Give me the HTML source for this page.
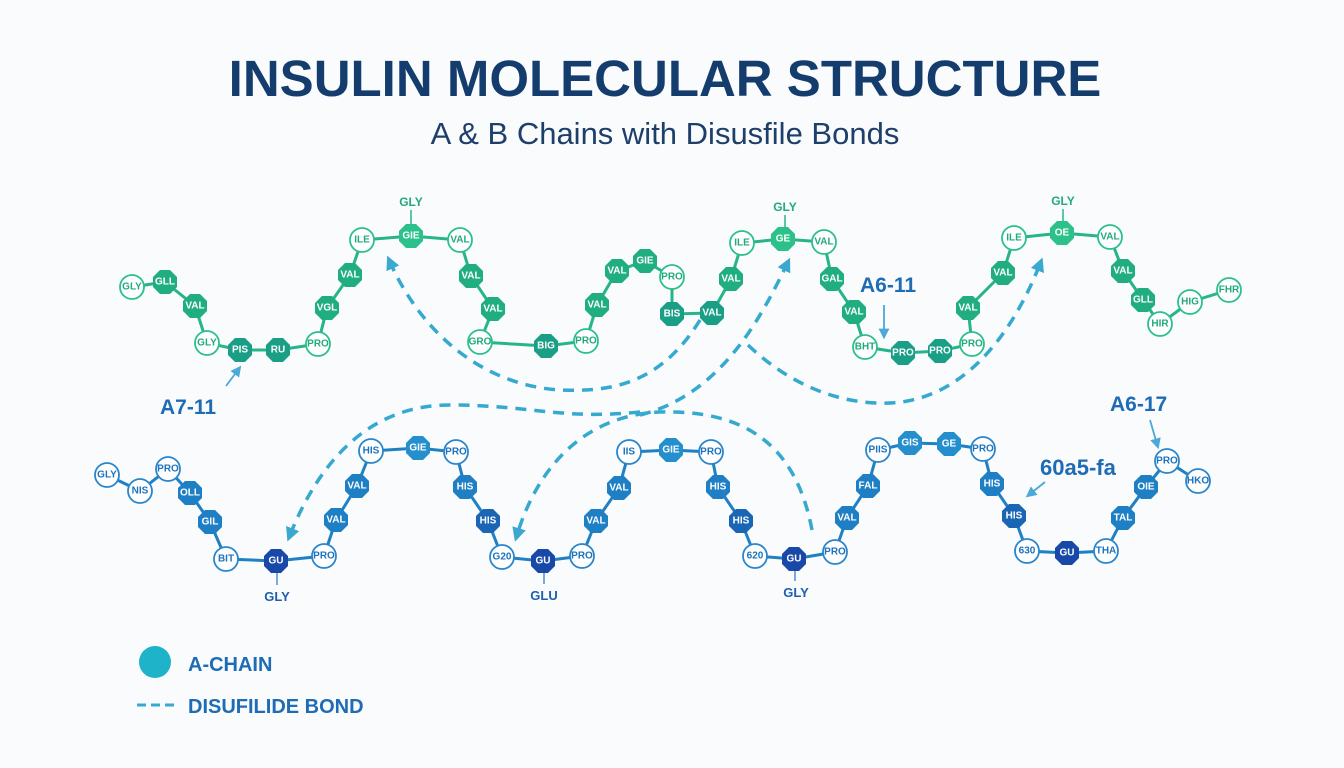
<!DOCTYPE html>
<html><head><meta charset="utf-8"><style>
html,body{margin:0;padding:0;background:#f9fbfc;}
svg{display:block;font-family:"Liberation Sans",sans-serif;}
.g text{font-size:10px;font-weight:bold;text-anchor:middle;dominant-baseline:central;}
.tf{fill:#fff}
.tg{fill:#22a97c}
.tb{fill:#1d72bd}
</style></head><body>
<svg width="1344" height="768" viewBox="0 0 1344 768">
<defs>
<polygon id="oct" points="12,5 5,12 -5,12 -12,5 -12,-5 -5,-12 5,-12 12,-5"/>
<marker id="ah" viewBox="0 0 10 10" refX="5" refY="5" markerWidth="4" markerHeight="4" orient="auto"><path d="M0,0 L10,5 L0,10 z" fill="#3aa8cf"/></marker>
<marker id="ah2" viewBox="0 0 10 10" refX="5" refY="5" markerWidth="6" markerHeight="6" orient="auto"><path d="M0,0 L10,5 L0,10 z" fill="#4aa9d6"/></marker>
</defs>
<rect width="1344" height="768" fill="#f9fbfc"/>
<text x="665" y="96" text-anchor="middle" font-size="51" font-weight="bold" fill="#143d6e">INSULIN MOLECULAR STRUCTURE</text>
<text x="665" y="144" text-anchor="middle" font-size="31" fill="#1d3f6a">A &amp; B Chains with Disusfile Bonds</text>

<!-- dashed bonds -->
<g fill="none" stroke="#35a9cf" stroke-width="3.5" stroke-dasharray="11,8">
<path d="M700,320 C660,385 610,392 560,390 C480,385 420,330 390,262" marker-end="url(#ah)"/>
<path d="M640,412 C560,420 530,405 450,405 C370,405 320,460 290,535" marker-end="url(#ah)"/>
<path d="M640,415 C720,395 760,320 787,264" marker-end="url(#ah)"/>
<path d="M812,530 C795,440 740,410 660,412 C590,415 540,460 517,535" marker-end="url(#ah)"/>
<path d="M748,345 C790,385 840,405 890,403 C960,400 1010,340 1040,264" marker-end="url(#ah)"/>
</g>

<!-- top chain -->
<polyline fill="none" stroke="#27b489" stroke-width="3" points="132,287 165,282 195,306 207,343 240,350 278,350 318,344 327,308 350,275 362,240 411,236 460,240 471,276 493,309 480,342 546,346 586,341 597,305 617,271 645,261 672,277 672,314 712,313 731,279 742,243 783,239 824,242 832,279 854,312 865,347 903,353 940,351 972,344 968,308 1003,273 1014,238 1062,233 1110,237 1123,271 1143,300 1160,324 1190,302 1229,290"/>
<g stroke="#27b489" stroke-width="1.5"><line x1="411" y1="210" x2="411" y2="226"/><line x1="785" y1="215" x2="785" y2="229"/><line x1="1063" y1="209" x2="1063" y2="223"/></g>
<g class="g">
<g fill="#fff" stroke="#2cbf8e" stroke-width="1.8">
<circle cx="132" cy="287" r="12"/><circle cx="207" cy="343" r="12"/><circle cx="318" cy="344" r="12"/><circle cx="362" cy="240" r="12"/><circle cx="460" cy="240" r="12"/><circle cx="480" cy="342" r="12"/><circle cx="586" cy="341" r="12"/><circle cx="672" cy="277" r="12"/><circle cx="742" cy="243" r="12"/><circle cx="824" cy="242" r="12"/><circle cx="865" cy="347" r="12"/><circle cx="972" cy="344" r="12"/><circle cx="1014" cy="238" r="12"/><circle cx="1110" cy="237" r="12"/><circle cx="1160" cy="324" r="12"/><circle cx="1190" cy="302" r="12"/><circle cx="1229" cy="290" r="12"/>
</g>
<g fill="#20ad80">
<use href="#oct" x="165" y="282"/><use href="#oct" x="195" y="306"/><use href="#oct" x="240" y="350" fill="#1a9f86"/><use href="#oct" x="278" y="350" fill="#1a9f86"/><use href="#oct" x="327" y="308"/><use href="#oct" x="350" y="275"/><use href="#oct" x="411" y="236" fill="#2cc08a"/><use href="#oct" x="471" y="276"/><use href="#oct" x="493" y="309"/><use href="#oct" x="546" y="346" fill="#1a9f86"/><use href="#oct" x="597" y="305"/><use href="#oct" x="617" y="271"/><use href="#oct" x="645" y="261"/><use href="#oct" x="672" y="314" fill="#1a9f86"/><use href="#oct" x="712" y="313" fill="#1a9f86"/><use href="#oct" x="731" y="279"/><use href="#oct" x="783" y="239" fill="#2cc08a"/><use href="#oct" x="832" y="279"/><use href="#oct" x="854" y="312"/><use href="#oct" x="903" y="353" fill="#1a9f86"/><use href="#oct" x="940" y="351" fill="#1a9f86"/><use href="#oct" x="968" y="308"/><use href="#oct" x="1003" y="273"/><use href="#oct" x="1062" y="233" fill="#2cc08a"/><use href="#oct" x="1123" y="271"/><use href="#oct" x="1143" y="300"/>
</g>
<text class="tg" x="132" y="287">GLY</text><text class="tf" x="165" y="282">GLL</text><text class="tf" x="195" y="306">VAL</text><text class="tg" x="207" y="343">GLY</text><text class="tf" x="240" y="350">PIS</text><text class="tf" x="278" y="350">RU</text><text class="tg" x="318" y="344">PRO</text><text class="tf" x="327" y="308">VGL</text><text class="tf" x="350" y="275">VAL</text><text class="tg" x="362" y="240">ILE</text><text class="tf" x="411" y="236">GIE</text><text class="tg" x="460" y="240">VAL</text><text class="tf" x="471" y="276">VAL</text><text class="tf" x="493" y="309">VAL</text><text class="tg" x="480" y="342">GRO</text><text class="tf" x="546" y="346">BIG</text><text class="tg" x="586" y="341">PRO</text><text class="tf" x="597" y="305">VAL</text><text class="tf" x="617" y="271">VAL</text><text class="tf" x="645" y="261">GIE</text><text class="tg" x="672" y="277">PRO</text><text class="tf" x="672" y="314">BIS</text><text class="tf" x="712" y="313">VAL</text><text class="tf" x="731" y="279">VAL</text><text class="tg" x="742" y="243">ILE</text><text class="tf" x="783" y="239">GE</text><text class="tg" x="824" y="242">VAL</text><text class="tf" x="832" y="279">GAL</text><text class="tf" x="854" y="312">VAL</text><text class="tg" x="865" y="347">BHT</text><text class="tf" x="903" y="353">PRO</text><text class="tf" x="940" y="351">PRO</text><text class="tg" x="972" y="344">PRO</text><text class="tf" x="968" y="308">VAL</text><text class="tf" x="1003" y="273">VAL</text><text class="tg" x="1014" y="238">ILE</text><text class="tf" x="1062" y="233">OE</text><text class="tg" x="1110" y="237">VAL</text><text class="tf" x="1123" y="271">VAL</text><text class="tf" x="1143" y="300">GLL</text><text class="tg" x="1160" y="324">HIR</text><text class="tg" x="1190" y="302">HIG</text><text class="tg" x="1229" y="290">FHR</text>
</g>
<g font-size="12" font-weight="bold" fill="#22a97c" text-anchor="middle"><text x="411" y="206">GLY</text><text x="785" y="211">GLY</text><text x="1063" y="205">GLY</text></g>

<!-- bottom chain -->
<polyline fill="none" stroke="#2080c4" stroke-width="3" points="107,475 140,491 168,469 190,493 210,522 226,559 276,561 324,556 336,520 357,486 371,451 418,448 456,452 465,487 488,521 502,557 543,561 582,556 596,521 619,488 629,452 671,450 711,452 718,487 741,521 755,556 794,559 835,552 847,518 868,486 878,450 910,443 949,444 983,449 992,484 1014,516 1027,551 1067,553 1106,551 1123,518 1146,487 1167,461 1198,481"/>
<g stroke="#4a90d0" stroke-width="1.5"><line x1="277" y1="573" x2="277" y2="585"/><line x1="544" y1="573" x2="544" y2="584"/><line x1="795" y1="571" x2="795" y2="581"/></g>
<g class="g">
<g fill="#fff" stroke="#2a86cc" stroke-width="1.8">
<circle cx="107" cy="475" r="12"/><circle cx="140" cy="491" r="12"/><circle cx="168" cy="469" r="12"/><circle cx="226" cy="559" r="12"/><circle cx="324" cy="556" r="12"/><circle cx="371" cy="451" r="12"/><circle cx="456" cy="452" r="12"/><circle cx="502" cy="557" r="12"/><circle cx="582" cy="556" r="12"/><circle cx="629" cy="452" r="12"/><circle cx="711" cy="452" r="12"/><circle cx="755" cy="556" r="12"/><circle cx="835" cy="552" r="12"/><circle cx="878" cy="450" r="12"/><circle cx="983" cy="449" r="12"/><circle cx="1027" cy="551" r="12"/><circle cx="1106" cy="551" r="12"/><circle cx="1167" cy="461" r="12"/><circle cx="1198" cy="481" r="12"/>
</g>
<g fill="#1e7fc4">
<use href="#oct" x="190" y="493"/><use href="#oct" x="210" y="522"/><use href="#oct" x="276" y="561" fill="#1848a8"/><use href="#oct" x="336" y="520"/><use href="#oct" x="357" y="486"/><use href="#oct" x="418" y="448" fill="#248fcc"/><use href="#oct" x="465" y="487"/><use href="#oct" x="488" y="521" fill="#1a66b5"/><use href="#oct" x="543" y="561" fill="#1848a8"/><use href="#oct" x="596" y="521"/><use href="#oct" x="619" y="488"/><use href="#oct" x="671" y="450" fill="#248fcc"/><use href="#oct" x="718" y="487"/><use href="#oct" x="741" y="521" fill="#1a66b5"/><use href="#oct" x="794" y="559" fill="#1848a8"/><use href="#oct" x="847" y="518"/><use href="#oct" x="868" y="486"/><use href="#oct" x="910" y="443" fill="#248fcc"/><use href="#oct" x="949" y="444" fill="#248fcc"/><use href="#oct" x="992" y="484"/><use href="#oct" x="1014" y="516" fill="#1a66b5"/><use href="#oct" x="1067" y="553" fill="#1848a8"/><use href="#oct" x="1123" y="518"/><use href="#oct" x="1146" y="487"/>
</g>
<text class="tb" x="107" y="475">GLY</text><text class="tb" x="140" y="491">NIS</text><text class="tb" x="168" y="469">PRO</text><text class="tf" x="190" y="493">OLL</text><text class="tf" x="210" y="522">GIL</text><text class="tb" x="226" y="559">BIT</text><text class="tf" x="276" y="561">GU</text><text class="tb" x="324" y="556">PRO</text><text class="tf" x="336" y="520">VAL</text><text class="tf" x="357" y="486">VAL</text><text class="tb" x="371" y="451">HIS</text><text class="tf" x="418" y="448">GIE</text><text class="tb" x="456" y="452">PRO</text><text class="tf" x="465" y="487">HIS</text><text class="tf" x="488" y="521">HIS</text><text class="tb" x="502" y="557">G20</text><text class="tf" x="543" y="561">GU</text><text class="tb" x="582" y="556">PRO</text><text class="tf" x="596" y="521">VAL</text><text class="tf" x="619" y="488">VAL</text><text class="tb" x="629" y="452">IIS</text><text class="tf" x="671" y="450">GIE</text><text class="tb" x="711" y="452">PRO</text><text class="tf" x="718" y="487">HIS</text><text class="tf" x="741" y="521">HIS</text><text class="tb" x="755" y="556">620</text><text class="tf" x="794" y="559">GU</text><text class="tb" x="835" y="552">PRO</text><text class="tf" x="847" y="518">VAL</text><text class="tf" x="868" y="486">FAL</text><text class="tb" x="878" y="450">PIIS</text><text class="tf" x="910" y="443">GIS</text><text class="tf" x="949" y="444">GE</text><text class="tb" x="983" y="449">PRO</text><text class="tf" x="992" y="484">HIS</text><text class="tf" x="1014" y="516">HIS</text><text class="tb" x="1027" y="551">630</text><text class="tf" x="1067" y="553">GU</text><text class="tb" x="1106" y="551">THA</text><text class="tf" x="1123" y="518">TAL</text><text class="tf" x="1146" y="487">OIE</text><text class="tb" x="1167" y="461">PRO</text><text class="tb" x="1198" y="481">HKO</text>
</g>
<g font-size="13" font-weight="bold" fill="#1d5fae" text-anchor="middle"><text x="277" y="601">GLY</text><text x="544" y="600">GLU</text><text x="796" y="597">GLY</text></g>

<!-- annotations -->
<g font-weight="bold" fill="#1e6cb5" font-size="21">
<text x="160" y="414">A7-11</text>
<text x="860" y="292">A6-11</text>
<text x="1110" y="411">A6-17</text>
<text x="1040" y="475" font-size="22">60a5-fa</text>
</g>
<g stroke="#4aa9d6" stroke-width="1.8" fill="none">
<line x1="226" y1="386" x2="238" y2="370" marker-end="url(#ah2)"/>
<line x1="884" y1="305" x2="884" y2="334" marker-end="url(#ah2)"/>
<line x1="1150" y1="420" x2="1157" y2="444" marker-end="url(#ah2)"/>
<line x1="1045" y1="482" x2="1030" y2="494" marker-end="url(#ah2)"/>
</g>

<!-- legend -->
<circle cx="155" cy="662" r="16" fill="#1fb3c9"/>
<text x="188" y="671" font-size="20" font-weight="bold" fill="#1e6cb5">A-CHAIN</text>
<line x1="137" y1="705" x2="176" y2="705" stroke="#35a9cf" stroke-width="3" stroke-dasharray="9,5"/>
<text x="188" y="713" font-size="20" font-weight="bold" fill="#1e6cb5">DISUFILIDE BOND</text>
</svg>
</body></html>
